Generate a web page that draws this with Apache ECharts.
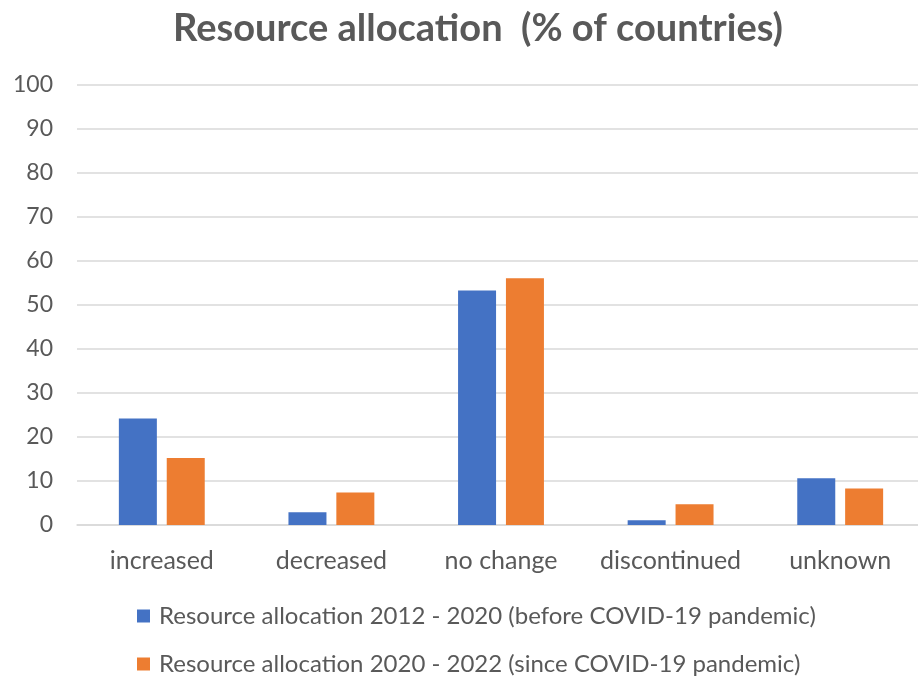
<!DOCTYPE html>
<html>
<head>
<meta charset="utf-8">
<script src="https://cdn.jsdelivr.net/npm/echarts@6/dist/echarts.min.js"></script>
<style>
  html, body { margin: 0; padding: 0; background: #ffffff; overflow: hidden; }
  /* the plot area runs a few pixels past the right edge of the window */
  #chart { width: 925px; height: 676px; }
</style>
</head>
<body>
<div id="chart"></div>
<script>
// Categories and shares of countries (%)
const categories = ['increased', 'decreased', 'no change', 'discontinued', 'unknown'];
const seriesNames = [
  'Resource allocation 2012 - 2020 (before COVID-19 pandemic)',
  'Resource allocation 2020 - 2022 (since COVID-19 pandemic)'
];
const before2020 = [24.2, 2.9, 53.3, 1.1, 10.6];
const since2020 = [15.2, 7.4, 56.1, 4.7, 8.3];
const yTicks = { min: 0, max: 100, interval: 10 };

const FONT = 'Lato, "Open Sans", sans-serif';
const TEXT = '#595959';
const GRID = '#d9d9d9';

// one legend block per row, stacked under the plot
function legendRow(name, top) {
  return {
    left: 137,
    top: top,
    padding: 0,
    itemWidth: 13,
    itemHeight: 13,
    icon: 'rect',
    textStyle: { fontFamily: FONT, fontSize: 24, color: TEXT, lineHeight: 26, padding: [0, 0, 0, 4] },
    data: [name]
  };
}

const chart = echarts.init(document.getElementById('chart'), null, { renderer: 'canvas' });

chart.setOption({
  backgroundColor: '#ffffff',
  animation: false,
  title: {
    text: 'Resource allocation  (% of countries)',
    left: 473,
    top: 5,
    textAlign: 'center',
    textStyle: { fontFamily: FONT, fontSize: 38, fontWeight: 'bold', color: TEXT }
  },
  legend: [
    legendRow(seriesNames[0], 603),
    legendRow(seriesNames[1], 651)
  ],
  grid: { left: 77, right: 0, top: 85, bottom: 151, containLabel: false },
  xAxis: {
    type: 'category',
    data: categories,
    axisLine: { show: true, lineStyle: { color: GRID, width: 1.5 } },
    axisTick: { show: false },
    axisLabel: { interval: 0, fontFamily: FONT, fontSize: 25, color: TEXT, margin: 23 }
  },
  yAxis: {
    type: 'value',
    min: yTicks.min,
    max: yTicks.max,
    interval: yTicks.interval,
    axisLine: { show: false },
    axisTick: { show: false },
    axisLabel: { fontFamily: FONT, fontSize: 23, color: TEXT, margin: 24 },
    splitLine: { lineStyle: { color: GRID, width: 1.5 } }
  },
  series: [
    {
      name: seriesNames[0],
      type: 'bar',
      data: before2020,
      barWidth: 38,
      barGap: '26%',
      itemStyle: { color: '#4472C4' }
    },
    {
      name: seriesNames[1],
      type: 'bar',
      data: since2020,
      barWidth: 38,
      barGap: '26%',
      itemStyle: { color: '#ED7D31' }
    }
  ]
});
</script>
</body>
</html>
